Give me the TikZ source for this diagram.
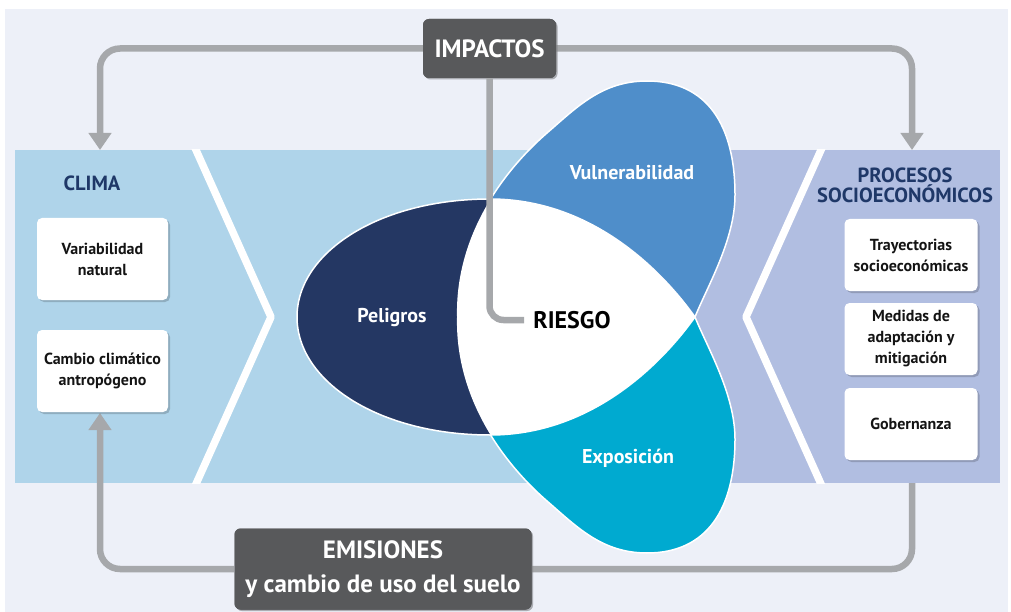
\documentclass[tikz,border=0pt]{standalone}
\usepackage{fontspec}
\setmainfont{PT Sans}
\usetikzlibrary{arrows.meta,shadows}
\definecolor{bgc}{HTML}{EDF0F8}
\definecolor{lband}{HTML}{AFD4EA}
\definecolor{rband}{HTML}{B1BEE1}
\definecolor{navyp}{HTML}{243763}
\definecolor{vulc}{HTML}{4F8ECA}
\definecolor{expc}{HTML}{00AAD0}
\definecolor{gboxc}{HTML}{58595B}
\definecolor{arrc}{HTML}{A6A8AB}
\definecolor{titc}{HTML}{1F3868}
\definecolor{txtc}{HTML}{141414}
\def\pathV{(457,317) .. controls (455,230) and (510,165) .. (547,133) .. controls (577,107) and (602,81) .. (647,81) .. controls (707,81) and (735,125) .. (735,195) .. controls (735,240) and (707,287) .. (695,317) -- cycle}
\def\pathE{(457,317) .. controls (455,404) and (510,469) .. (547,501) .. controls (577,527) and (602,553) .. (647,553) .. controls (707,553) and (735,509) .. (735,439) .. controls (735,394) and (707,347) .. (695,317) -- cycle}
\def\pathP{(695,317) .. controls (660,268) and (590,199) .. (490,199) .. controls (380,199) and (297,252) .. (297,317) .. controls (297,382) and (380,435) .. (490,435) .. controls (590,435) and (660,366) .. (695,317) -- cycle}
\begin{document}
\begin{tikzpicture}[x=1pt,y=-1pt,
  wbox/.style={fill=white, rounded corners=5pt, minimum width=131pt, align=center,
    font=\bfseries\fontsize{16}{21}\selectfont, text=txtc,
    drop shadow={shadow xshift=2pt, shadow yshift=-2pt, opacity=0.18, fill=black}},
  gbox/.style={fill=gboxc, rounded corners=6pt, align=center, text=white,
    font=\bfseries\fontsize{25}{34}\selectfont,
    drop shadow={shadow xshift=1.5pt, shadow yshift=-1.5pt, opacity=0.15, fill=black}},
  title/.style={font=\bfseries\fontsize{20.5}{20}\selectfont, text=titc, align=center},
  petal/.style={font=\bfseries\fontsize{20}{22}\selectfont, text=white},
  conn/.style={draw=arrc, line width=6.5pt, rounded corners=20pt},
  tipA/.style={-{Triangle[width=22pt,length=17pt]}},
  chev/.style={draw=white, line width=7.5pt, line join=round}
]
\useasboundingbox (0,0) rectangle (1011,612);
\fill[white] (0,0) rectangle (1011,612);
\fill[bgc] (5,9) rectangle (1008,612);
% bands
\fill[lband] (15,150) rectangle (690,483);
\fill[rband] (690,150) rectangle (1000,483);
\begin{scope}
  \clip (15,150) rectangle (1000,483);
  \draw[chev] (191.5,140) -- (271,317) -- (191.5,494);
  \draw[chev] (825.5,140) -- (746,317) -- (825.5,494);
\end{scope}
% free ends of connectors
\coordinate (ctop) at (100,150);
\coordinate (ptop) at (912,150);
\coordinate (ctip) at (100,413);
\coordinate (pbot) at (912,483);
% gray boxes
\node[gbox, minimum width=133pt, minimum height=59pt] (imp) at (489.5,48.5) {IMPACTOS};
\node[gbox, minimum width=297pt, minimum height=81pt] (emi) at (383,569) {EMISIONES\\y cambio de uso del suelo};
% outer connectors
\draw[conn,tipA] (imp.west) -| (ctop);
\draw[conn,tipA] (imp.east) -| (ptop);
\draw[conn,tipA] (emi.west) -| (ctip);
\draw[conn] (pbot) |- (emi.east);
% boxes again over the line ends
\node[gbox, minimum width=133pt, minimum height=59pt] at (489.5,48.5) {IMPACTOS};
\node[gbox, minimum width=297pt, minimum height=81pt] at (383,569) {EMISIONES\\y cambio de uso del suelo};
% petals
\fill[vulc, draw=white, line width=1.5pt] \pathV;
\fill[expc, draw=white, line width=1.5pt] \pathE;
\fill[navyp, draw=white, line width=1.5pt] \pathP;
\begin{scope}
  \clip \pathP;
  \fill[white] \pathV;
  \fill[white] \pathE;
\end{scope}
\node[petal] (vul) at (632,173) {Vulnerabilidad};
\node[petal] (pel) at (392,318) {Peligros};
\node[petal] (expo) at (628,458) {Exposición};
\node[font=\bfseries\fontsize{24}{26}\selectfont, text=black, inner sep=9pt] (riesgo) at (572,320) {RIESGO};
\draw[conn, rounded corners=14pt] (imp.south) |- (riesgo.west);
% left side
\node[title] (clima) at (92,183) {CLIMA};
\node[wbox, minimum height=82pt] (var) at (102.5,259) {Variabilidad\\natural};
\node[wbox, minimum height=82pt] (cam) at (102.5,371) {Cambio climático\\antropógeno};
% right side
\node[title] (proc) at (905,185) {PROCESOS\\SOCIOECONÓMICOS};
\node[wbox, minimum width=133pt, minimum height=72pt] (tra) at (911,255) {Trayectorias\\socioeconómicas};
\node[wbox, minimum width=133pt, minimum height=72pt] (med) at (911,339) {Medidas de\\adaptación y\\mitigación};
\node[wbox, minimum width=133pt, minimum height=72pt] (gob) at (911,424) {Gobernanza};
\end{tikzpicture}
\end{document}
